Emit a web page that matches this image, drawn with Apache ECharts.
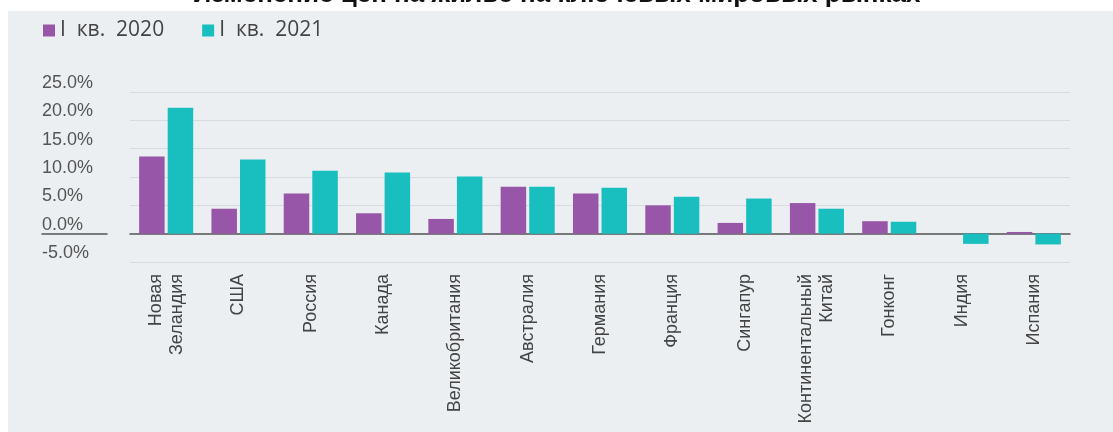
<!DOCTYPE html>
<html>
<head>
<meta charset="utf-8">
<script src="https://cdn.jsdelivr.net/npm/echarts@6/dist/echarts.min.js"></script>
<style>
  html, body { margin: 0; padding: 0; background: #ffffff; }
  #wrap { position: relative; width: 1113px; height: 432px; overflow: hidden; }
  #panel { position: absolute; left: 8px; top: 11px; right: 0; bottom: 0; background: #ebeff2; }
  #chart { position: absolute; left: 0; top: 0; width: 1113px; height: 432px; }
</style>
</head>
<body>
<div id="wrap">
  <div id="panel"></div>
  <div id="chart"></div>
</div>
<script>
const titleText = 'Изменение цен на жилье на ключевых мировых рынках';
const categories = ['Новая\nЗеландия', 'США', 'Россия', 'Канада', 'Великобритания', 'Австралия', 'Германия', 'Франция', 'Сингапур', 'Континентальный\nКитай', 'Гонконг', 'Индия', 'Испания'];
const seriesNames = ['I кв. 2020', 'I кв. 2021'];
const q1_2020 = [13.6, 4.4, 7.1, 3.6, 2.6, 8.3, 7.1, 5.0, 1.9, 5.4, 2.2, 0.0, 0.3];
const q1_2021 = [22.2, 13.1, 11.1, 10.8, 10.1, 8.3, 8.1, 6.5, 6.2, 4.4, 2.1, -1.8, -1.9];
const yTicks = { min: -5, max: 25, interval: 5 };

const chart = echarts.init(document.getElementById('chart'), null, { renderer: 'canvas' });
const FONT = '"Liberation Sans", Arial, sans-serif';
chart.setOption({
  backgroundColor: 'transparent',
  animation: false,
  title: {
    text: titleText,
    left: 'center',
    top: -23,
    textStyle: { fontSize: 26, fontWeight: 'bold', color: '#111', fontFamily: FONT }
  },
  legend: {
    left: 38,
    top: 15,
    icon: 'rect',
    itemWidth: 12,
    itemHeight: 12,
    itemGap: 38,
    formatter: name => name.replace(/ /g, '  '),
    textStyle: { fontSize: 21, color: '#444', fontFamily: '"Open Sans", sans-serif' },
    data: seriesNames
  },
  grid: [
    { left: 130, right: 43, top: 92, bottom: 170, containLabel: false, outerBoundsMode: 'none' },
    { left: 42, width: 65, top: 92, bottom: 170, containLabel: false, outerBoundsMode: 'none' }
  ],
  xAxis: [
    {
      type: 'category',
      gridIndex: 0,
      data: categories,
      axisLine: { show: true, onZero: true, lineStyle: { color: '#555', width: 1.5 } },
      axisTick: { show: false },
      axisLabel: {
        interval: 0, rotate: 90, margin: 12,
        fontSize: 18, lineHeight: 21, color: '#444', fontFamily: FONT
      },
      splitLine: { show: false }
    },
    {
      type: 'value',
      gridIndex: 1,
      min: 0, max: 1,
      axisLine: { show: true, onZero: true, lineStyle: { color: '#555', width: 1.5 } },
      axisTick: { show: false },
      axisLabel: { show: false },
      splitLine: { show: false }
    }
  ],
  yAxis: [
    {
      type: 'value',
      gridIndex: 0,
      min: yTicks.min,
      max: yTicks.max,
      interval: yTicks.interval,
      axisLine: { show: false },
      axisTick: { show: false },
      axisLabel: {
        margin: 88, align: 'left', verticalAlign: 'bottom', padding: [0, 0, 0, 0],
        fontSize: 18, color: '#555', fontFamily: FONT,
        formatter: v => v.toFixed(1) + '%'
      },
      splitLine: { show: true, lineStyle: { color: '#d6dbe0', width: 1 } }
    },
    {
      type: 'value',
      gridIndex: 1,
      min: yTicks.min,
      max: yTicks.max,
      interval: yTicks.interval,
      axisLine: { show: false },
      axisTick: { show: false },
      axisLabel: { show: false },
      splitLine: { show: false }
    }
  ],
  series: [
    { name: seriesNames[0], type: 'bar', xAxisIndex: 0, yAxisIndex: 0, data: q1_2020, barWidth: 25.5, barGap: '12%', itemStyle: { color: '#9856a8' } },
    { name: seriesNames[1], type: 'bar', xAxisIndex: 0, yAxisIndex: 0, data: q1_2021, barWidth: 25.5, barGap: '12%', itemStyle: { color: '#19bfbf' } }
  ]
});
</script>
</body>
</html>
